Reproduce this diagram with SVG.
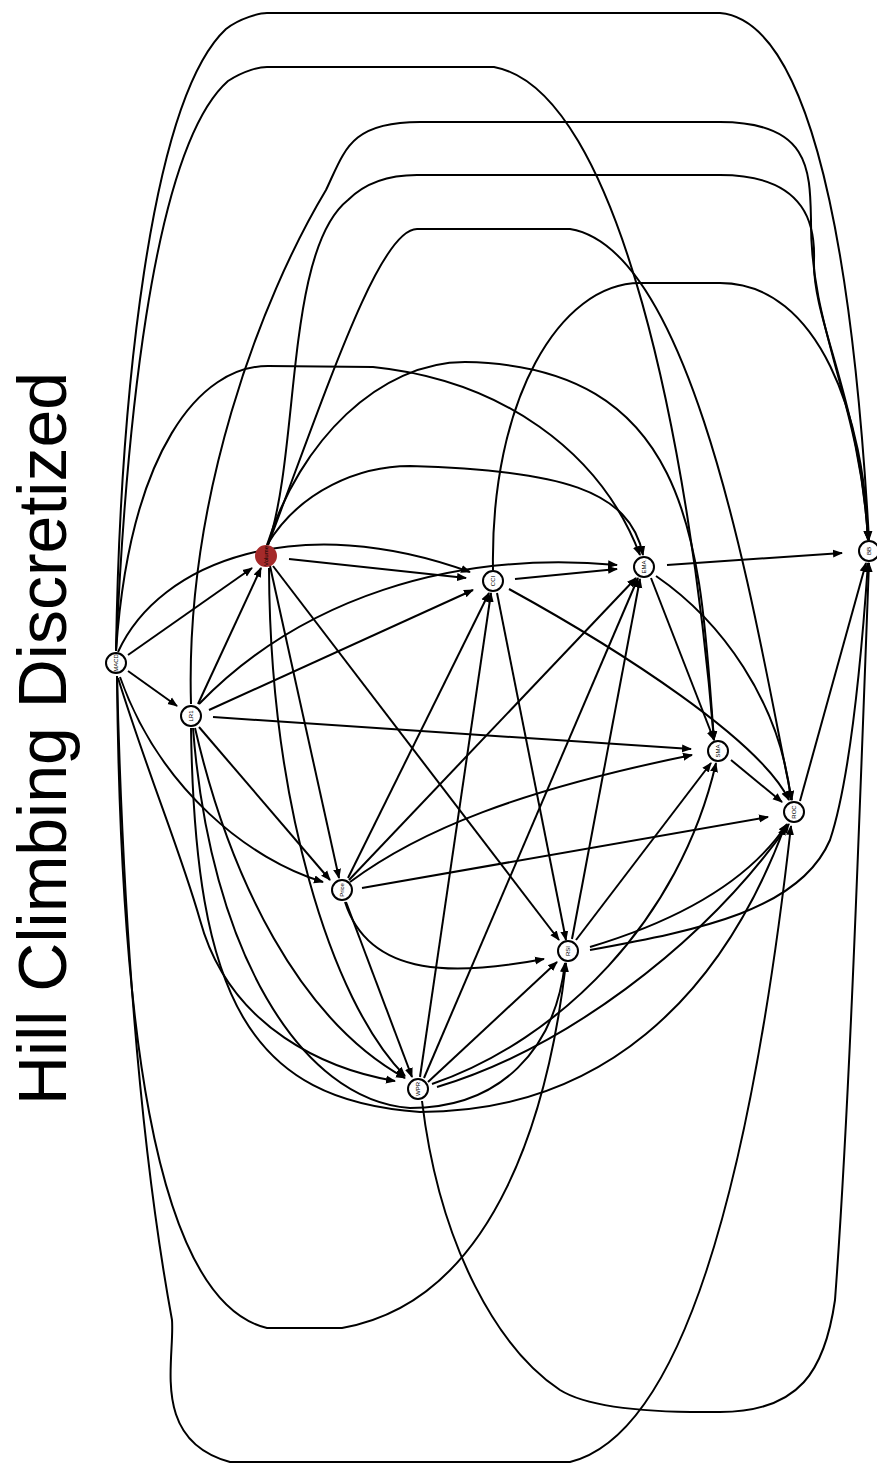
<svg xmlns="http://www.w3.org/2000/svg" width="877" height="1464" viewBox="0 0 877 1464">
<style>
.e{fill:none;stroke:#000;stroke-width:2}
.n{fill:#fff;stroke:#000;stroke-width:2}
.r{fill:#a52a2a;stroke:#a52a2a;stroke-width:2}
.l{font-family:"Liberation Sans",Arial,sans-serif;font-size:6px;fill:#000;text-anchor:middle;dominant-baseline:central}
.t{font-family:"Liberation Sans",Arial,sans-serif;font-size:68px;fill:#000}
</style>
<defs>
<marker id="a" viewBox="0 0 10 10" refX="9" refY="5" markerWidth="10" markerHeight="10" markerUnits="userSpaceOnUse" orient="auto"><path d="M0,1 L10,5 L0,9 z" fill="#000"/></marker>
</defs>
<rect width="877" height="1464" fill="#fff"/>
<text class="t" transform="translate(66,1105) rotate(-90)">Hill Climbing Discretized</text>
<g id="edges" class="e" marker-end="url(#a)">
<path d="M128,655 L252,568"/>
<path d="M128,671 L177,706"/>
<path d="M198,704 L261,568"/>
<path d="M209,710 L473,590"/>
<path d="M213,717 L691,749"/>
<path d="M199,727 L330,880"/>
<path d="M289,559 L466,578"/>
<path d="M270,566 L339,878"/>
<path d="M273,566 L559,940"/>
<path d="M515,579 L617,569"/>
<path d="M497,593 L566,940"/>
<path d="M667,565 L842,553"/>
<path d="M651,578 L714,740"/>
<path d="M731,760 L782,802"/>
<path d="M800,801 L866,563"/>
<path d="M348,878 L489,593"/>
<path d="M349,880 L636,578"/>
<path d="M362,888 L768,817"/>
<path d="M346,902 L412,1077"/>
<path d="M572,939 L640,579"/>
<path d="M576,940 L711,763"/>
<path d="M420,1077 L491,593"/>
<path d="M424,1078 L638,578"/>
<path d="M428,1082 L557,962"/>
<path d="M509,589 C620,650 760,740 789,800"/>
<path d="M656,576 C720,620 780,700 791,800"/>
<path d="M350,882 C420,830 520,790 692,755"/>
<path d="M345,902 C370,980 460,975 544,959"/>
<path d="M590,947 C680,920 750,880 787,824"/>
<path d="M590,950 C700,930 800,910 830,840 C850,780 862,650 868,563"/>
<path d="M432,1084 C560,1040 680,920 716,763"/>
<path d="M437,1087 C560,1050 700,950 789,824"/>
<path d="M422,1101 C440,1250 500,1350 560,1390 C600,1415 700,1412 720,1412 C800,1412 825,1370 835,1300 C850,1100 860,800 869,563"/>
<path d="M118,652 C160,560 300,510 470,572"/>
<path d="M199,704 C300,600 450,550 617,565"/>
<path d="M120,677 C160,790 250,860 323,882"/>
<path d="M118,678 C150,780 180,850 200,920 C230,1030 330,1070 395,1081"/>
<path d="M195,728 C230,880 300,1020 405,1078"/>
<path d="M269,568 C270,800 330,1000 405,1076"/>
<path d="M191,728 C195,1000 250,1100 420,1112 C600,1112 720,1000 785,826"/>
<path d="M193,728 C210,950 300,1100 410,1108 C500,1108 555,1050 565,963"/>
<path d="M117,676 C120,1000 150,1300 267,1328 L342,1328 C500,1300 550,1100 566,963"/>
<path d="M117,676 C125,1000 150,1200 172,1320 C175,1360 150,1440 230,1462 L570,1462 C700,1430 760,1100 791,826"/>
<path d="M116,651 C120,400 150,100 226,29 C240,18 260,13 267,13 L720,13 C800,20 850,200 869,540"/>
<path d="M116,651 C125,450 150,150 228,81 C245,70 260,67 267,67 L494,67 C620,90 690,450 714,740"/>
<path d="M191,704 C185,500 260,300 326,190 C345,150 350,122 420,122 L720,122 C810,122 810,170 811,220 C810,330 860,400 868,540"/>
<path d="M268,545 C300,450 285,250 348,200 C360,188 380,175 417,175 L720,175 C810,175 815,230 814,260 C812,320 860,400 868,540"/>
<path d="M268,545 C330,380 380,229 417,229 L570,229 C700,250 760,650 792,800"/>
<path d="M493,570 C490,400 560,283 640,283 L720,283 C820,283 865,420 868,540"/>
<path d="M116,651 C130,450 200,366 268,366 L373,367 C500,380 600,450 640,555"/>
<path d="M267,545 C300,440 380,362 465,362 C700,366 700,560 714,740"/>
<path d="M267,545 C300,490 360,466 410,466 C560,470 630,490 643,555"/>
</g>
<g id="n-macd"><circle class="n" cx="116" cy="663" r="10"/><text class="l" transform="translate(116,663) rotate(-90)">MACD</text></g>
<g id="n-lr1"><circle class="n" cx="191" cy="716" r="10"/><text class="l" transform="translate(191,716) rotate(-90)">LR1</text></g>
<g id="n-volume"><circle class="r" cx="266" cy="556" r="10"/><text class="l" transform="translate(266,556) rotate(-90)">Volume</text></g>
<g id="n-cci"><circle class="n" cx="493" cy="581" r="10"/><text class="l" transform="translate(493,581) rotate(-90)">CCI</text></g>
<g id="n-ema"><circle class="n" cx="644" cy="567" r="10"/><text class="l" transform="translate(644,567) rotate(-90)">EMA</text></g>
<g id="n-bb"><circle class="n" cx="869" cy="551" r="10"/><text class="l" transform="translate(869,551) rotate(-90)">BB</text></g>
<g id="n-sma"><circle class="n" cx="718" cy="751" r="10"/><text class="l" transform="translate(718,751) rotate(-90)">SMA</text></g>
<g id="n-roc"><circle class="n" cx="794" cy="812" r="10"/><text class="l" transform="translate(794,812) rotate(-90)">ROC</text></g>
<g id="n-price"><circle class="n" cx="342" cy="890" r="10"/><text class="l" transform="translate(342,890) rotate(-90)">Price</text></g>
<g id="n-rsi"><circle class="n" cx="568" cy="951" r="10"/><text class="l" transform="translate(568,951) rotate(-90)">RSI</text></g>
<g id="n-wpr"><circle class="n" cx="418" cy="1089" r="10"/><text class="l" transform="translate(418,1089) rotate(-90)">WPR</text></g>
</svg>
